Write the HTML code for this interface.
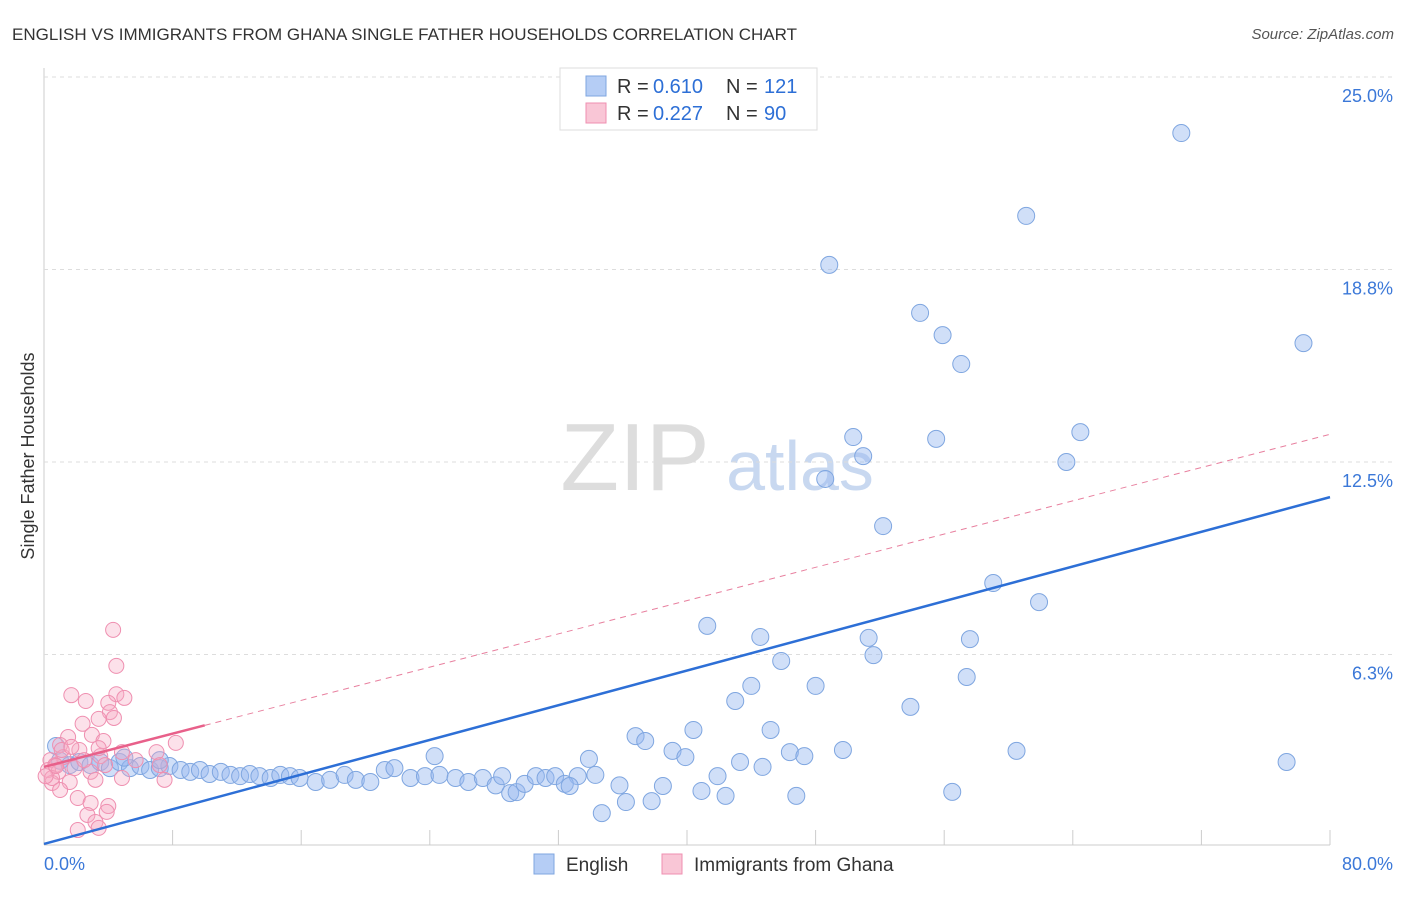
<!DOCTYPE html>
<html><head><meta charset="utf-8"><style>
body{margin:0;background:#fff;font-family:"Liberation Sans",sans-serif}
svg text{font-family:"Liberation Sans",sans-serif}
</style></head><body>
<svg id="c" width="1406" height="892">
<text x="12" y="40" font-size="17" fill="#333">ENGLISH VS IMMIGRANTS FROM GHANA SINGLE FATHER HOUSEHOLDS CORRELATION CHART</text>
<text x="1394" y="39" font-size="15" fill="#555" text-anchor="end" font-style="italic">Source: ZipAtlas.com</text>
<text x="34" y="456" font-size="18" fill="#333" text-anchor="middle" transform="rotate(-90 34 456)">Single Father Households</text>
<g><text x="635" y="490" font-size="96" fill="#ddd" text-anchor="middle" font-family="Liberation Serif">ZIP</text><text x="800" y="490" font-size="70" fill="#c8d8f0" text-anchor="middle">atlas</text></g>
<g id="grid"></g><g id="pts"></g><g id="lines"></g>
<g>
<rect x="560" y="68" width="257" height="62" fill="#fff" stroke="#ddd"/>
<rect x="586" y="76" width="20" height="20" fill="#b5cdf5" stroke="#7fa6e0"/>
<rect x="586" y="103" width="20" height="20" fill="#f9c6d6" stroke="#ef8fb0"/>
<text x="617" y="93" font-size="20" fill="#333">R =</text><text x="653" y="93" font-size="20" fill="#2d6fd6">0.610</text>
<text x="726" y="93" font-size="20" fill="#333">N =</text><text x="764" y="93" font-size="20" fill="#2d6fd6">121</text>
<text x="617" y="120" font-size="20" fill="#333">R =</text><text x="653" y="120" font-size="20" fill="#2d6fd6">0.227</text>
<text x="726" y="120" font-size="20" fill="#333">N =</text><text x="764" y="120" font-size="20" fill="#2d6fd6">90</text>
</g>
<g>
<rect x="534" y="854" width="20" height="20" fill="#b5cdf5" stroke="#7fa6e0"/><text x="566" y="871" font-size="19" fill="#333">English</text>
<rect x="662" y="854" width="20" height="20" fill="#f9c6d6" stroke="#ef8fb0"/><text x="694" y="871" font-size="19" fill="#333">Immigrants from Ghana</text>
</g>
</svg>
<script>
const yTicks=[6.25,12.5,18.75,25];
const yTickLabels=["6.3%","12.5%","18.8%","25.0%"];
const xTickLabels=["0.0%","80.0%"];
const englishX=[70.75,61.1,48.85,54.5,55.9,57.06,78.35,50.34,55.5,64.47,50.96,63.6,48.6,52.2,59.05,61.9,41.26,44.56,51.3,57.6,51.6,45.86,57.4,44.0,48.0,43.0,53.9,40.4,45.2,36.8,37.4,39.1,39.9,46.4,47.3,49.7,60.5,77.3,43.3,44.7,41.9,40.9,42.4,46.8,56.5,38.5,35.8,36.2,37.8,34.7,33.9,34.3,33.2,24.3,0.75,1,1.6,2.2,2.9,3.5,4.1,4.7,5.35,6,6.6,7.2,7.8,8.5,9.1,9.7,10.3,11,11.6,12.2,12.8,13.4,14.1,14.7,15.3,15.9,16.9,17.8,18.7,19.4,20.3,21.2,21.8,22.8,23.7,24.6,25.6,26.4,27.3,28.1,28.5,29.0,29.4,29.9,30.6,31.2,31.8,32.4,32.7,7.2,5];
const englishY=[23.18,20.49,18.9,17.34,16.62,15.68,16.36,13.31,13.25,13.47,12.69,12.5,11.95,10.42,8.57,7.95,7.18,6.82,6.79,6.75,6.23,6.04,5.52,5.23,5.23,4.74,4.55,3.8,3.8,3.6,3.44,3.12,2.92,3.08,2.95,3.15,3.12,2.76,2.76,2.6,2.3,1.82,1.66,1.66,1.79,1.98,2.0,1.46,1.49,1.1,2.86,2.34,2.3,2.95,3.28,2.8,2.66,2.76,2.66,2.76,2.56,2.76,2.56,2.63,2.5,2.56,2.63,2.5,2.44,2.5,2.37,2.44,2.34,2.3,2.37,2.3,2.24,2.34,2.3,2.24,2.11,2.18,2.34,2.18,2.11,2.5,2.56,2.24,2.3,2.34,2.24,2.11,2.24,2.0,2.3,1.75,1.78,2.05,2.3,2.24,2.3,2.05,1.98,2.82,2.9];
const ghanaX=[4.3,4.5,1.7,2.6,4.5,5.0,4.0,4.1,4.35,3.4,2.4,8.2,1.5,2.98,3.7,1.0,2.2,4.85,7.0,3.5,1.2,0.4,0.7,0.25,0.9,1.9,2.9,3.8,5.7,7.2,7.5,4.85,3.2,1.6,0.5,0.5,0.1,1.0,2.1,2.9,4.0,3.9,2.7,3.2,2.1,3.4,0.75,1.1,1.7,2.5,3.4];
const ghanaY=[7.05,5.88,4.93,4.74,4.96,4.84,4.68,4.38,4.19,4.16,4.0,3.38,3.57,3.64,3.44,3.31,3.15,3.08,3.08,2.95,2.92,2.82,2.66,2.5,2.44,2.56,2.44,2.66,2.82,2.66,2.18,2.24,2.18,2.11,2.08,2.24,2.3,1.85,1.59,1.43,1.33,1.14,1.04,0.81,0.55,0.62,2.63,3.15,3.25,2.82,3.21];
const englishTrend=[0.1,11.36];
const ghanaTrend=[2.6,13.4];
const ghanaSolidEnd=10;
const X=v=>44+v/80*1286, Y=v=>847-v*30.8;
const NS="http://www.w3.org/2000/svg";
function mk(p,t,a){const e=document.createElementNS(NS,t);for(const k in a)e.setAttribute(k,a[k]);p.appendChild(e);return e;}
const g=document.getElementById('grid');
let ax=mk(g,'line',{x1:44,y1:68,x2:44,y2:845,stroke:'#ccc'});

let bx=mk(g,'line',{x1:44,y1:845,x2:1330,y2:845,stroke:'#ccc'});

yTicks.forEach((t,i)=>{const l=mk(g,'line',{x1:44,x2:1394,y1:Y(t),y2:Y(t),stroke:'#ddd','stroke-dasharray':'4,4'});

const tx=mk(g,'text',{x:1393,y:Y(t)+25,'font-size':18,fill:'#3b78d8','text-anchor':'end'});tx.textContent=yTickLabels[i];
});
for(let i=0;i<=10;i++){const l=mk(g,'line',{x1:X(i*8),x2:X(i*8),y1:830,y2:845,stroke:'#ccc'});
}
[[0,44,'start'],[80,1393,'end']].forEach((d,i)=>{const t=mk(g,'text',{x:d[1],y:870,'font-size':18,fill:'#3b78d8','text-anchor':d[2]});t.textContent=xTickLabels[i];
});
const p=document.getElementById('pts');
englishX.forEach((v,i)=>{const c=mk(p,'circle',{cx:X(v),cy:Y(englishY[i]),r:8.5,fill:'rgba(150,185,240,0.45)',stroke:'#7fa6e0','stroke-width':1});
});
ghanaX.forEach((v,i)=>{const c=mk(p,'circle',{cx:X(v),cy:Y(ghanaY[i]),r:7.5,fill:'rgba(245,170,195,0.35)',stroke:'#ef8fb0','stroke-width':1});
});
const L=document.getElementById('lines');
let t1=mk(L,'line',{x1:X(0),y1:Y(englishTrend[0]),x2:X(80),y2:Y(englishTrend[1]),stroke:'#2d6fd6','stroke-width':2.5});

const gy=x=>ghanaTrend[0]+(ghanaTrend[1]-ghanaTrend[0])*x/80;
let t2=mk(L,'line',{x1:X(0),y1:Y(gy(0)),x2:X(ghanaSolidEnd),y2:Y(gy(ghanaSolidEnd)),stroke:'#e8608a','stroke-width':2.5});

let t3=mk(L,'line',{x1:X(ghanaSolidEnd),y1:Y(gy(ghanaSolidEnd)),x2:X(80),y2:Y(gy(80)),stroke:'#e8809f','stroke-width':1,'stroke-dasharray':'6,5'});

</script>
</body></html>
